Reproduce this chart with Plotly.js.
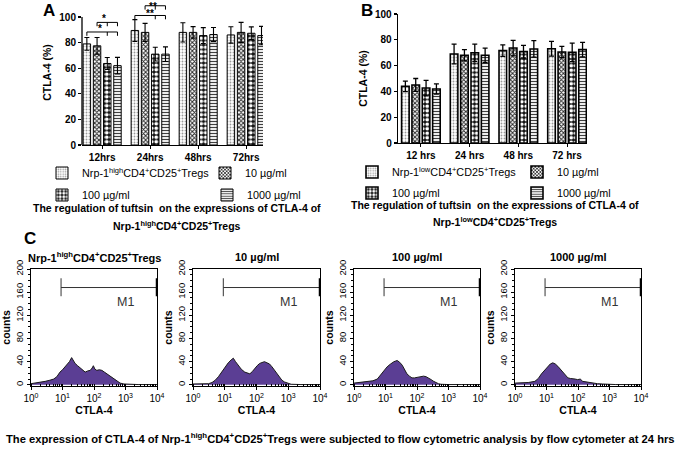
<!DOCTYPE html>
<html><head><meta charset="utf-8">
<script src="https://cdn.plot.ly/plotly-3.0.1.min.js"></script>
<style>html,body{margin:0;padding:0;background:#fff}#chart{width:680px;height:451px}</style>
</head><body><div id="chart"></div>
<script>
// ---------------- DATA ----------------
const timepointsA = ['12hrs', '24hrs', '48hrs', '72hrs'];
const timepointsB = ['12 hrs', '24 hrs', '48 hrs', '72 hrs'];
const groupNamesA = ['Nrp-1<sup>high</sup>CD4<sup>+</sup>CD25<sup>+</sup>Tregs', '10 µg/ml', '100 µg/ml', '1000 µg/ml'];
const groupNamesB = ['Nrp-1<sup>low</sup>CD4<sup>+</sup>CD25<sup>+</sup>Tregs', '10 µg/ml', '100 µg/ml', '1000 µg/ml'];

// Panel A: Nrp-1 high, CTLA-4 (%)
const highControl = [79, 89.5, 88, 86];
const highControlErr = [5, 8.5, 7.5, 6.4];
const high10 = [77.5, 88, 88, 88];
const high10Err = [6.5, 7, 4.5, 7.8];
const high100 = [63.7, 71, 85.5, 87.3];
const high100Err = [4.7, 5.4, 6.2, 5];
const high1000 = [62, 71, 86.3, 85.5];
const high1000Err = [6.5, 5.7, 5.5, 7.2];

// Panel B: Nrp-1 low, CTLA-4 (%)
const lowControl = [43.9, 69, 71.6, 73.1];
const lowControlErr = [4, 7.7, 4.4, 5.7];
const low10 = [45, 68, 73.6, 70.5];
const low10Err = [5, 4.4, 6, 4.4];
const low100 = [42.6, 70, 70.8, 70.3];
const low100Err = [6, 6.7, 4.9, 7.2];
const low1000 = [41.9, 68, 72.9, 72.4];
const low1000Err = [4, 5.6, 6.4, 5.6];

// significance comparisons in panel A (category index, bar indices spanned, label)
const sigCats = [0, 0, 1, 1];
const sigBars = [[1, 2, 3], [0, 2, 3], [1, 2, 3], [0, 2, 3]];
const sigLabels = ['*', '*', '**', '**'];

// Panel C histograms at 24 hrs (log10 CTLA-4 channel, counts)
const histTitles = ['Nrp-1<sup>high</sup>CD4<sup>+</sup>CD25<sup>+</sup>Tregs', '10 µg/ml', '100 µg/ml', '1000 µg/ml'];
const ctlaLog1 = [0, 0.15, 0.3, 0.45, 0.6, 0.72, 0.82, 0.92, 1.0, 1.08, 1.15, 1.22, 1.29, 1.34, 1.4, 1.48, 1.56, 1.64, 1.72, 1.8, 1.88, 1.94, 1.98, 2.03, 2.09, 2.17, 2.25, 2.33, 2.41, 2.5, 2.62, 2.72, 2.83, 2.95, 3.1, 3.4, 3.7, 4];
const counts1 = [2, 3, 4, 6, 8, 10, 14, 22, 26, 31, 35, 40, 47, 42, 37, 33, 29, 25, 22, 24, 25, 29, 33, 27, 25, 26, 25, 22, 19, 15, 11, 6, 3, 1.5, 1, 0.5, 0.5, 0.5];
const ctlaLog2 = [0, 0.2, 0.49, 0.6, 0.7, 0.8, 0.9, 1.0, 1.11, 1.2, 1.27, 1.34, 1.42, 1.52, 1.63, 1.72, 1.79, 1.87, 1.94, 2.02, 2.1, 2.18, 2.25, 2.33, 2.41, 2.49, 2.57, 2.65, 2.72, 2.8, 2.88, 3.0, 3.09, 3.4, 3.7, 4];
const counts2 = [1.5, 2, 2, 4, 8, 14, 22, 30, 38, 43, 46, 40, 34, 27, 22, 20, 19, 23, 28, 33, 37, 39, 40, 38, 36, 31, 25, 18, 13, 8, 5, 2, 1, 0.5, 0.5, 0.5];
const ctlaLog3 = [0, 0.2, 0.42, 0.6, 0.74, 0.85, 0.95, 1.05, 1.16, 1.27, 1.37, 1.45, 1.53, 1.6, 1.68, 1.76, 1.84, 1.92, 2.0, 2.1, 2.21, 2.29, 2.37, 2.45, 2.53, 2.6, 2.68, 2.76, 2.84, 3.0, 3.4, 3.7, 4];
const counts3 = [3, 4, 5, 7, 10, 17, 25, 31, 36, 40, 42, 39, 34, 26, 19, 15, 12, 12, 13, 14, 15, 14, 12, 9, 6, 4, 2, 1, 0.5, 0.5, 0.5, 0.5, 0.5];
const ctlaLog4 = [0, 0.2, 0.42, 0.63, 0.74, 0.84, 0.95, 1.05, 1.12, 1.2, 1.28, 1.36, 1.44, 1.52, 1.6, 1.68, 1.76, 1.83, 1.91, 1.99, 2.07, 2.15, 2.25, 2.36, 2.5, 2.62, 2.77, 2.93, 3.2, 3.6, 4];
const counts4 = [3, 3, 4, 6, 11, 19, 26, 32, 36, 38, 36, 32, 27, 22, 17, 12, 11, 11, 10, 9, 10, 6, 5, 4, 3, 2, 1.5, 1, 0.5, 0.5, 0.5];
const gateM1 = [9, 10000]; // M1 marker range (CTLA-4 intensity)
const logTickVals = [1, 10, 100, 1000, 10000];
const logTickText = ['10<sup>0</sup>', '10<sup>1</sup>', '10<sup>2</sup>', '10<sup>3</sup>', '10<sup>4</sup>'];

// ---------------- STYLE / LAYOUT ----------------
const W = 680, H = 451;
const px = x => x / W, py = y => 1 - y / H;
const FONT = '"Liberation Sans", Arial, Helvetica, sans-serif';
const BARGAP = 0.15, BARGROUPGAP = 0.27;
const Y_TOP_A = 113.3;

const patterns = [
  {shape: '.', fgcolor: '#9a9a9a', bgcolor: '#ffffff', size: 3, solidity: 0.3},
  {shape: 'x', fgcolor: '#2a2a2a', bgcolor: '#ffffff', size: 3, solidity: 0.55},
  {shape: '.', fgcolor: '#ffffff', bgcolor: '#111111', size: 4.5, solidity: 0.55},
  {shape: '-', fgcolor: '#404040', bgcolor: '#ffffff', size: 3, solidity: 0.4}
];

const valsA = [highControl, high10, high100, high1000];
const errsA = [highControlErr, high10Err, high100Err, high1000Err];
const valsB = [lowControl, low10, low100, low1000];
const errsB = [lowControlErr, low10Err, low100Err, low1000Err];

const traces = [];
valsA.forEach((v, i) => {
  traces.push({type: 'bar', x: timepointsA, y: v, name: groupNamesA[i], xaxis: 'x', yaxis: 'y',
    legend: i === 0 ? 'legend' : 'legend' + (i + 1),
    marker: {color: '#ffffff', line: {color: '#000', width: 1}, pattern: patterns[i]},
    error_y: {type: 'data', array: errsA[i], color: '#000', thickness: 1.1, width: 2.5},
    hoverinfo: 'skip'});
});
valsB.forEach((v, i) => {
  traces.push({type: 'bar', x: timepointsB, y: v, name: groupNamesB[i], xaxis: 'x2', yaxis: 'y2',
    legend: 'legend' + (i + 5),
    marker: {color: '#ffffff', line: {color: '#000', width: 1.6}, pattern: patterns[i]},
    error_y: {type: 'data', array: errsB[i], color: '#000', thickness: 1.3, width: 2.5},
    hoverinfo: 'skip'});
});
const histLogs = [ctlaLog1, ctlaLog2, ctlaLog3, ctlaLog4];
const histCounts = [counts1, counts2, counts3, counts4];
histLogs.forEach((lg, i) => {
  traces.push({type: 'scatter', mode: 'lines', x: lg.map(v => Math.pow(10, v)), y: histCounts[i],
    xaxis: 'x' + (i + 3), yaxis: 'y' + (i + 3), fill: 'tozeroy', fillcolor: '#5b3e94',
    line: {color: '#1a1a1a', width: 1}, showlegend: false, hoverinfo: 'skip'});
});

const tickBold = {size: 10, weight: 'bold', family: FONT, color: '#000'};
const layout = {
  width: W, height: H, margin: {l: 0, r: 0, t: 0, b: 0},
  paper_bgcolor: '#fff', plot_bgcolor: 'rgba(0,0,0,0)',
  font: {family: FONT, color: '#000', size: 10},
  barmode: 'group', bargap: BARGAP, bargroupgap: BARGROUPGAP,
  showlegend: true,
  xaxis: {domain: [px(82), px(263)], anchor: 'y', type: 'category', categoryarray: timepointsA,
    range: [-0.42, 3.35], showline: true, linecolor: '#000', linewidth: 1.3, ticks: 'outside', ticklen: 3,
    tickcolor: '#000', tickfont: tickBold, showgrid: false, zeroline: false, fixedrange: true},
  yaxis: {domain: [py(145), 1], anchor: 'x', range: [0, Y_TOP_A], tickvals: [0, 20, 40, 60, 80, 100],
    ticks: 'outside', ticklen: 3, tickcolor: '#000', tickwidth: 1.2, showline: false, showgrid: false, zeroline: false,
    tickfont: tickBold, title: {text: 'CTLA-4 (%)', font: {size: 10.5, weight: 'bold'}, standoff: 5}, fixedrange: true},
  xaxis2: {domain: [px(398), px(587)], anchor: 'y2', type: 'category', categoryarray: timepointsB,
    range: [-0.47, 3.41], showline: true, linecolor: '#000', linewidth: 1.3, ticks: 'outside', ticklen: 3,
    tickcolor: '#000', tickfont: tickBold, showgrid: false, zeroline: false, fixedrange: true},
  yaxis2: {domain: [py(143), py(14)], anchor: 'x2', range: [0, 100], tickvals: [0, 20, 40, 60, 80, 100],
    ticks: 'outside', ticklen: 3, tickcolor: '#000', tickwidth: 1.2, showline: true, linecolor: '#000', linewidth: 1.3,
    showgrid: false, zeroline: false, tickfont: tickBold,
    title: {text: 'CTLA-4 (%)', font: {size: 10.5, weight: 'bold'}, standoff: 5}, fixedrange: true},
  shapes: [], annotations: []
};

// panel A y axis line (only up to 100)
layout.shapes.push({type: 'line', xref: 'x domain', yref: 'y', x0: 0, x1: 0, y0: 0, y1: 100,
  line: {color: '#000', width: 1.3}});

// histogram axes
const histX = [[31, 157], [193, 320], [354, 480], [515, 641]];
histX.forEach((xr, i) => {
  const n = i + 3;
  layout['xaxis' + n] = {domain: [px(xr[0]), px(xr[1])], anchor: 'y' + n, type: 'log', range: [0, 4],
    tickvals: logTickVals, ticktext: logTickText, ticks: 'outside', ticklen: 3, tickcolor: '#000',
    minor: {ticks: 'inside', ticklen: 2, dtick: 'D1', tickcolor: '#000'},
    showline: true, mirror: true, linecolor: '#000', linewidth: 1, showgrid: false, zeroline: false,
    tickfont: {size: 10}, title: {text: 'CTLA-4', font: {size: 10.5, weight: 'bold'}, standoff: 3}, fixedrange: true};
  layout['yaxis' + n] = {domain: [py(386), py(269)], anchor: 'x' + n, range: [-2, 200],
    tickvals: [0, 40, 80, 120, 160, 200], tickangle: -90, ticks: 'outside', ticklen: 3, tickcolor: '#000',
    minor: {ticks: 'outside', ticklen: 2, dtick: 10, tickcolor: '#000'},
    showline: true, mirror: true, linecolor: '#000', linewidth: 1, showgrid: false, zeroline: false,
    tickfont: {size: 9.5}, title: {text: 'counts', font: {size: 10.5, weight: 'bold'}, standoff: 1}, fixedrange: true};
  // M1 gate
  const xr2 = 'x' + n, yr2 = 'y' + n;
  layout.shapes.push({type: 'line', xref: xr2, yref: yr2, x0: gateM1[0], x1: gateM1[1], y0: 168, y1: 168, line: {color: '#333', width: 1}});
  layout.shapes.push({type: 'line', xref: xr2, yref: yr2, x0: gateM1[0], x1: gateM1[0], y0: 153, y1: 184, line: {color: '#333', width: 1}});
  layout.shapes.push({type: 'line', xref: xr2, yref: yr2, x0: gateM1[1], x1: gateM1[1], y0: 153, y1: 184, line: {color: '#000', width: 2.5}});
  layout.annotations.push({xref: xr2, yref: yr2, x: 3, y: 143, text: 'M1', showarrow: false, xanchor: 'center',
    font: {size: 12.5, color: '#333'}});
  layout.annotations.push({xref: xr2 + ' domain', yref: 'paper', x: 0.5, y: py(257), text: histTitles[i],
    showarrow: false, xanchor: 'center', font: {size: 11, weight: 'bold', color: '#000'}});
});

// significance brackets in panel A
const offs = i => -(1 - BARGAP) / 2 + (1 - BARGAP) / 4 * (i + 0.5);
const bracketY = [95.8, 88.3, 108.8, 101.2];
const starY = [98.6, 91, Y_TOP_A, 102.6];
const starAnchor = ['middle', 'middle', 'top', 'middle'];
const starDx = [0.04, -0.04, 0.06, 0];
sigCats.forEach((c, k) => {
  const b = sigBars[k];
  const xa = c + offs(b[0]), xm = c + offs(b[1]), xb = c + offs(b[2]), y = bracketY[k];
  const ln = {color: '#000', width: 1};
  layout.shapes.push({type: 'line', xref: 'x', yref: 'y', x0: xa, x1: xb, y0: y, y1: y, line: ln});
  [xa, xm, xb].forEach(xx => layout.shapes.push({type: 'line', xref: 'x', yref: 'y', x0: xx, x1: xx, y0: y, y1: y - 3, line: ln}));
  layout.annotations.push({xref: 'x', yref: 'y', x: c + starDx[k], y: starY[k], text: sigLabels[k], showarrow: false,
    xanchor: 'center', yanchor: starAnchor[k], borderpad: 0, font: {size: 10, weight: 'bold', color: '#000'}});
});

// legends (2x2 grid under each bar chart)
const legPos = [[42, 173], [205, 173], [42, 195], [207, 195], [352, 172], [517, 172], [352, 193], [517, 193]];
legPos.forEach((p, i) => {
  const key = i === 0 ? 'legend' : 'legend' + (i + 1);
  layout[key] = {x: px(p[0]), y: py(p[1]), xanchor: 'left', yanchor: 'middle', bgcolor: 'rgba(0,0,0,0)',
    borderwidth: 0, font: {size: 10.8, color: '#000'}, orientation: 'v', itemclick: false, itemdoubleclick: false};
});

// text labels
const ann = (x, y, text, size) => layout.annotations.push({xref: 'paper', yref: 'paper', x: px(x), y: py(y),
  xanchor: 'center', yanchor: 'middle', text: text, showarrow: false, font: {size: size, weight: 'bold', color: '#000'}});
ann(49, 10, 'A', 17);
ann(367, 10, 'B', 17);
ann(30, 238, 'C', 17);
ann(177, 208, 'The regulation of tuftsin  on the expressions of CTLA-4 of', 10.5);
ann(177, 225, 'Nrp-1<sup>high</sup>CD4<sup>+</sup>CD25<sup>+</sup>Tregs', 10.5);
ann(495, 205, 'The regulation of tuftsin  on the expressions of CTLA-4 of', 10.5);
ann(495, 221, 'Nrp-1<sup>low</sup>CD4<sup>+</sup>CD25<sup>+</sup>Tregs', 10.5);
ann(340, 438, 'The expression of CTLA-4 of Nrp-1<sup>high</sup>CD4<sup>+</sup>CD25<sup>+</sup>Tregs were subjected to flow cytometric analysis by flow cytometer at 24 hrs', 11.2);

Plotly.newPlot('chart', traces, layout, {staticPlot: true, displayModeBar: false});
</script>
</body></html>
